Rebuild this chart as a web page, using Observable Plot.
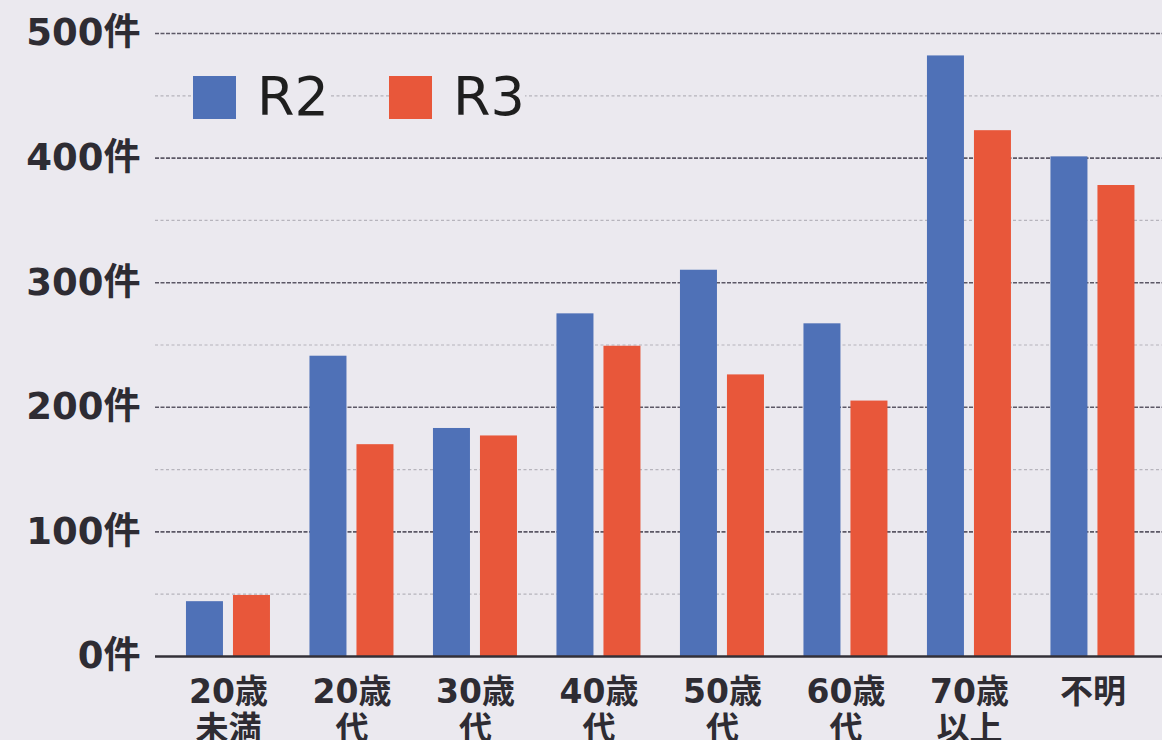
<!DOCTYPE html>
<html>
<head>
<meta charset="utf-8">
<script src="https://cdn.jsdelivr.net/npm/d3@7"></script>
<script src="https://cdn.jsdelivr.net/npm/@observablehq/plot@0.6"></script>
<style>
  html, body { margin: 0; padding: 0; background: #ebe9ef; }
  #wrap { position: relative; width: 1162px; height: 740px; overflow: hidden; }
  .legend { position: absolute; top: 70px; left: 193px; display: flex; align-items: center; font-family: "DejaVu Sans", "Noto Sans", sans-serif; font-weight: normal; font-size: 54px; line-height: 1; color: #1e1e1e; }
  .legend .item { display: flex; align-items: center; background: #ebe9ef; margin-right: 60px; }
  .legend .sw { width: 43px; height: 43px; margin-right: 21px; }
</style>
</head>
<body>
<div id="wrap"></div>
<script>
const categories = ["20歳未満", "20歳代", "30歳代", "40歳代", "50歳代", "60歳代", "70歳以上", "不明"];
const tickLabels = ["20歳\n未満", "20歳\n代", "30歳\n代", "40歳\n代", "50歳\n代", "60歳\n代", "70歳\n以上", "不明"];
const seriesNames = ["R2", "R3"];
const r2 = [44, 241, 183, 275, 310, 267, 482, 401];
const r3 = [49, 170, 177, 249, 226, 205, 422, 378];
const yTicks = [0, 100, 200, 300, 400, 500];
const yMinor = [50, 150, 250, 350, 450];

const colors = { R2: "#4f71b7", R3: "#e8573a" };
const data = categories.map((c, i) => ({ cat: c, R2: r2[i], R3: r3[i] }));
const labelOf = new Map(categories.map((c, i) => [c, tickLabels[i]]));

const font = '"DejaVu Sans", "Noto Sans CJK JP", sans-serif';

const chart = Plot.plot({
  width: 1162,
  height: 740,
  marginLeft: 155,
  marginRight: 0,
  marginTop: 33,
  marginBottom: 84,
  style: { background: "transparent", fontFamily: font, color: "#2b2b2b" },
  x: { domain: categories, paddingInner: 0, paddingOuter: 0.077, align: 0.59, round: false, label: null },
  y: { domain: [0, 500], label: null },
  marks: [
    Plot.ruleY(yMinor, { stroke: "#b6b4bc", strokeWidth: 1.2, strokeDasharray: "3,2.5" }),
    Plot.ruleY(yTicks.filter(d => d > 0), { stroke: "#5c5866", strokeWidth: 1.6, strokeDasharray: "4,1.5" }),
    Plot.barY(data, { x: "cat", y: "R2", fill: colors.R2, insetLeft: 19.75, insetRight: 66.75 }),
    Plot.barY(data, { x: "cat", y: "R3", fill: colors.R3, insetLeft: 66.75, insetRight: 19.75 }),
    Plot.ruleY([0], { stroke: "#333038", strokeWidth: 2.5 }),
    Plot.axisY({ ticks: yTicks, tickSize: 0, tickPadding: 15, fontSize: 37, fontWeight: 700, fill: "#2e2c33", tickFormat: d => d + "件" }),
    Plot.axisX({ tickSize: 0, tickPadding: 21, fontSize: 33, fontWeight: 700, fill: "#2e2c33", lineHeight: 1.1, tickFormat: d => labelOf.get(d) })
  ]
});

const wrap = document.getElementById("wrap");
wrap.appendChild(chart);

const legend = document.createElement("div");
legend.className = "legend";
for (const s of seriesNames) {
  const item = document.createElement("div");
  item.className = "item";
  const sw = document.createElement("div");
  sw.className = "sw";
  sw.style.background = colors[s];
  const t = document.createElement("span");
  t.textContent = s;
  item.appendChild(sw);
  item.appendChild(t);
  legend.appendChild(item);
}
wrap.appendChild(legend);
</script>
</body>
</html>
